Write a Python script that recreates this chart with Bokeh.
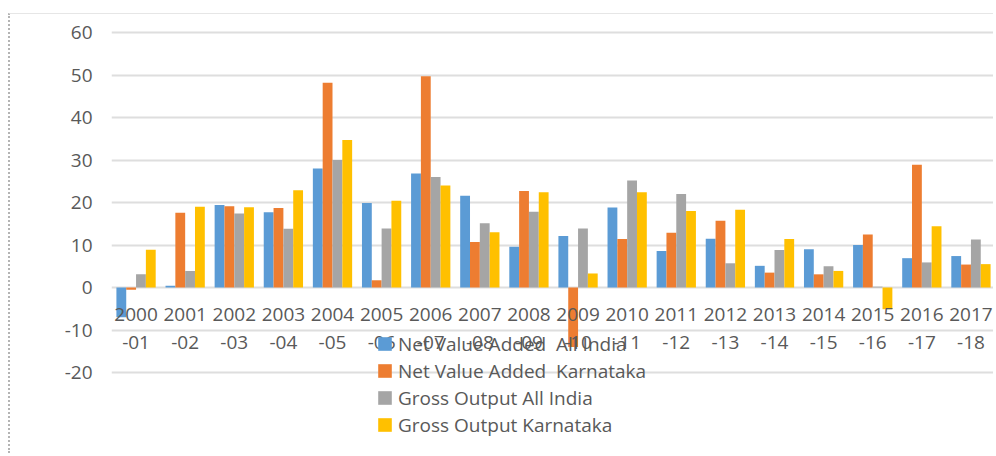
from bokeh.plotting import figure
from bokeh.embed import file_html
from bokeh.resources import INLINE
from bokeh.models import ColumnDataSource, FixedTicker, Range1d
from bokeh.transform import dodge
from bokeh.core.properties import value

years = ["2000-01", "2001-02", "2002-03", "2003-04", "2004-05", "2005-06", "2006-07",
         "2007-08", "2008-09", "2009-10", "2010-11", "2011-12", "2012-13", "2013-14",
         "2014-15", "2015-16", "2016-17", "2017-18"]
label_top = ["2000", "2001", "2002", "2003", "2004", "2005", "2006", "2007", "2008",
             "2009", "2010", "2011", "2012", "2013", "2014", "2015", "2016", "2017"]
label_bottom = ["-01", "-02", "-03", "-04", "-05", "-06", "-07", "-08", "-09",
                "-10", "-11", "-12", "-13", "-14", "-15", "-16", "-17", "-18"]

nva_india = [-7.0, 0.4, 19.4, 17.7, 28.0, 19.9, 26.8, 21.6, 9.6, 12.1, 18.8, 8.6,
             11.5, 5.1, 9.0, 10.0, 6.9, 7.4]
nva_karnataka = [-0.5, 17.6, 19.1, 18.7, 48.2, 1.7, 49.7, 10.7, 22.7, -14.0, 11.4,
                 12.9, 15.7, 3.5, 3.1, 12.5, 28.9, 5.4]
go_india = [3.1, 3.9, 17.4, 13.8, 30.0, 13.9, 26.0, 15.1, 17.8, 13.9, 25.2, 22.0,
            5.7, 8.8, 5.0, 0.2, 5.9, 11.3]
go_karnataka = [8.9, 19.0, 18.9, 22.9, 34.7, 20.4, 24.0, 13.0, 22.4, 3.3, 22.4,
                18.0, 18.3, 11.4, 3.9, -5.1, 14.4, 5.5]

series_names = ["Net Value Added  All India", "Net Value Added  Karnataka",
                "Gross Output All India", "Gross Output Karnataka"]
series_keys = ["nva_india", "nva_karnataka", "go_india", "go_karnataka"]
colors = ["#5B9BD5", "#ED7D31", "#A5A5A5", "#FFC000"]
y_ticks = [-20, -10, 0, 10, 20, 30, 40, 50, 60]

source = ColumnDataSource(dict(
    years=years, label_top=label_top, label_bottom=label_bottom,
    nva_india=nva_india, nva_karnataka=nva_karnataka,
    go_india=go_india, go_karnataka=go_karnataka,
    y_top=[-6.3] * len(years), y_bottom=[-12.9] * len(years),
))

FONT = "Open Sans"
TXT = "#595959"

frame_top_px = 14.0
frame_h = 440
zero_px = 287.0
ppu = 4.25
y_end = (zero_px - frame_top_px) / ppu
y_start = (zero_px - (frame_top_px + frame_h)) / ppu

p = figure(x_range=years, y_range=Range1d(y_start, y_end),
           width=985, height=frame_h, output_backend="svg", toolbar_location=None,
           min_border_left=101, min_border_right=0, min_border_top=0,
           min_border_bottom=0)
p.styles = {"margin-top": "13px", "margin-left": "8px",
            "border-top": "1px solid #e6e6e6",
            "border-left": "2px dotted #b4b4b4"}
p.outline_line_color = None
p.background_fill_color = "white"
p.border_fill_color = "white"

offsets = [-0.3, -0.1, 0.1, 0.3]
for key, name, col, off in zip(series_keys, series_names, colors, offsets):
    p.vbar(x=dodge("years", off, range=p.x_range), bottom=0, top=key, width=0.2,
           source=source, fill_color=col, line_color=None, legend_label=name)

p.text(x="years", y="y_top", text="label_top", source=source, text_align="center",
       text_baseline="middle", text_font=value(FONT), text_font_size="19px",
       text_color=TXT)
p.text(x="years", y="y_bottom", text="label_bottom", source=source,
       text_align="center", text_baseline="middle", text_font=value(FONT),
       text_font_size="19px", text_color=TXT)

p.xaxis.visible = False
p.xgrid.visible = False
p.yaxis.ticker = FixedTicker(ticks=y_ticks)
p.yaxis.major_label_overrides = {t: str(t) for t in y_ticks}
p.yaxis.axis_line_color = None
p.yaxis.major_tick_line_color = None
p.yaxis.minor_tick_line_color = None
p.yaxis.major_tick_out = 0
p.yaxis.major_tick_in = 0
p.yaxis.major_label_standoff = 19
p.yaxis.major_label_text_font = FONT
p.yaxis.major_label_text_font_size = "19px"
p.yaxis.major_label_text_color = TXT
p.ygrid.grid_line_color = "#dedede"
p.ygrid.grid_line_width = 2

lg = p.legend[0]
lg.location = (265, 16)
lg.orientation = "vertical"
lg.background_fill_alpha = 0
lg.border_line_color = None
lg.padding = 0
lg.margin = 0
lg.spacing = 0
lg.glyph_width = 17
lg.glyph_height = 17
lg.label_height = 27
lg.label_standoff = 5
lg.label_text_font = FONT
lg.label_text_font_size = "19px"
lg.label_text_color = TXT

open("out.html", "w").write(file_html(p, INLINE))
